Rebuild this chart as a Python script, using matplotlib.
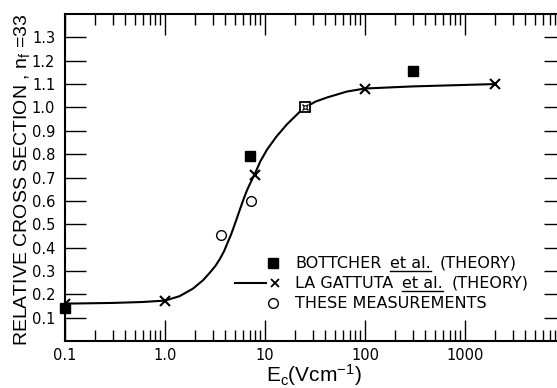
import numpy as np
import matplotlib.pyplot as plt
from matplotlib.lines import Line2D
from matplotlib.ticker import LogLocator, FixedLocator, NullFormatter

# La Gattuta et al. (theory) - computed points (x markers)
lg_field = [0.1, 1.0, 8.0, 100, 2000]
lg_sigma = [0.16, 0.173, 0.712, 1.081, 1.10]

# smooth theory curve
curve_field = [0.1, 0.3, 0.6, 1.0, 1.4, 1.9, 2.4, 2.8, 3.2, 3.55, 3.9, 4.2, 4.57,
               4.8, 5.2, 5.6, 6.1, 6.6, 7.2, 7.9, 9.0, 10.5, 13, 16.6, 24, 32, 42,
               66, 100, 300, 2000]
curve_sigma = [0.160, 0.163, 0.167, 0.173, 0.192, 0.224, 0.26, 0.292, 0.322,
               0.352, 0.385, 0.418, 0.455, 0.48, 0.522, 0.562, 0.607, 0.645, 0.68,
               0.715, 0.77, 0.82, 0.875, 0.928, 0.995, 1.025, 1.043, 1.068,
               1.081, 1.09, 1.10]

# Bottcher et al. (theory)
bo_field = [0.1, 7.0, 300]
bo_sigma = [0.143, 0.79, 1.155]

# these measurements
me_field = [3.6, 7.2]
me_sigma = [0.455, 0.60]

# normalisation point (all three coincide)
norm_field = [25]
norm_sigma = [1.0]

yticks = [0.1, 0.2, 0.3, 0.4, 0.5, 0.6, 0.7, 0.8, 0.9, 1.0, 1.1, 1.2, 1.3]
xmajor = [0.1, 1, 10, 100, 1000, 10000]
xlabels = ["0.1", "1.0", "10", "100", "1000", ""]

plt.rcParams["mathtext.default"] = "regular"

W, H = 557, 388
fig = plt.figure(figsize=(W / 100, H / 100), dpi=100)
ax = fig.add_axes([65 / W, 1 - 341 / H, 500 / W, 327 / H])

ax.plot(curve_field, curve_sigma, color="black", lw=1.5)
ax.plot(lg_field, lg_sigma, ls="none", marker="x", ms=7, mew=1.5, color="black")
ax.plot(bo_field, bo_sigma, ls="none", marker="s", ms=7, color="black", clip_on=False)
ax.plot(me_field, me_sigma, ls="none", marker="o", ms=7, mfc="white", mec="black", mew=1.0)
ax.plot(norm_field, norm_sigma, ls="none", marker="s", ms=7, mfc="white", mec="black", mew=1.3)
ax.plot(norm_field, norm_sigma, ls="none", marker="x", ms=5, mew=1.0, color="black")
ax.plot(norm_field, norm_sigma, ls="none", marker="o", ms=2.5, mfc="white", mec="black", mew=0.8)

ax.set_xscale("log")
ax.set_xlim(0.1, 1e4)
ax.set_ylim(0, 1.40)

ax.xaxis.set_major_locator(FixedLocator(xmajor))
ax.xaxis.set_minor_locator(LogLocator(base=10, subs=np.arange(2, 10), numticks=20))
ax.xaxis.set_minor_formatter(NullFormatter())
ax.set_xticklabels(xlabels)
ax.set_yticks(yticks)
ax.set_yticklabels(["%.1f" % v for v in yticks])

ax.tick_params(which="both", direction="in", top=True, right=True, width=1.0,
               labelsize=10.5)
ax.tick_params(axis="y", pad=7)
ax.tick_params(axis="x", pad=5)
ax.tick_params(which="major", length=15)
ax.tick_params(which="minor", length=8)
for s in ax.spines.values():
    s.set_linewidth(1.5)

label_font = ["Liberation Sans", "DejaVu Sans"]
fig.text(22 / W, 1 - 180 / H, "RELATIVE CROSS SECTION , $n_f$ =33", rotation=90,
         ha="center", va="center", fontsize=14, family=label_font)
fig.text(314 / W, 1 - 382 / H, "E$_c$(Vcm$^{-1}$)", ha="center", va="baseline",
         fontsize=15, family=label_font)

# legend drawn by hand so that "et al." can be underlined
def fx(px):
    return px / W

def fy(py):
    return 1 - py / H

fig.add_artist(Line2D([fx(273)], [fy(263)], marker="s", ms=7, color="black", ls="none"))
fig.add_artist(Line2D([fx(235), fx(266)], [fy(283), fy(283)], color="black", lw=1.5))
fig.add_artist(Line2D([fx(275)], [fy(283)], marker="x", ms=6, mew=1.3, color="black", ls="none"))
fig.add_artist(Line2D([fx(273)], [fy(303)], marker="o", ms=7, mfc="white", mec="black",
                      mew=1.0, ls="none"))

renderer = fig.canvas.get_renderer()
LEG_SIZE = 11.5


def width_of(s):
    t = fig.text(0, 0, s, fontsize=LEG_SIZE)
    w = t.get_window_extent(renderer).width
    t.remove()
    return w


space = width_of("A A") - width_of("AA") + 4


def put_row(py, parts):
    x = 295
    for s, ul in parts:
        t = fig.text(fx(x), fy(py), s, fontsize=LEG_SIZE, va="baseline")
        ext = t.get_window_extent(renderer)
        if ul:
            fig.add_artist(Line2D([fx(x), fx(x + ext.width)], [fy(py + 3), fy(py + 3)],
                                  color="black", lw=1.0))
        x += ext.width + space


put_row(268, [("BOTTCHER", False), ("et al.", True), ("(THEORY)", False)])
put_row(288, [("LA GATTUTA", False), ("et al.", True), ("(THEORY)", False)])
put_row(308, [("THESE MEASUREMENTS", False)])

fig.savefig("out.png", dpi=100)
